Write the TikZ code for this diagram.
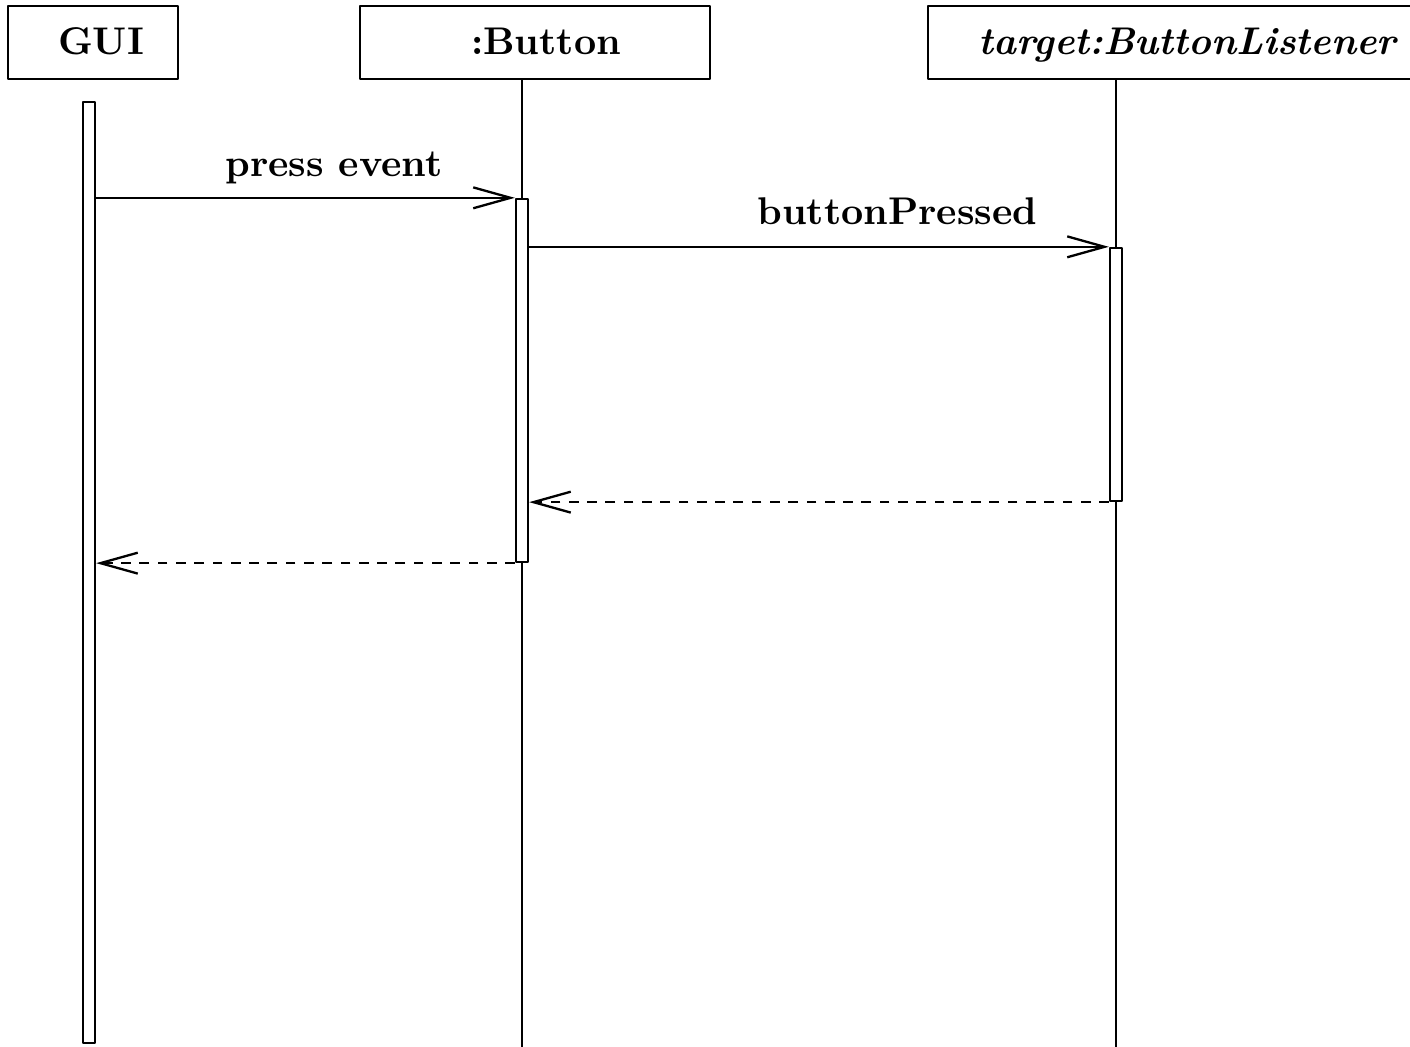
\documentclass[tikz,border=0pt]{standalone}
\usetikzlibrary{arrows.meta}
\begin{document}
\begin{tikzpicture}[x=0.268pt,y=-0.268pt,
  line width=0.62pt,line join=round,
  objbox/.style={draw,rectangle,inner sep=0pt,minimum height={73*0.268pt}},
  objtext/.style={anchor=base,inner sep=0pt,font=\fontsize{10.35pt}{12pt}\bfseries},
  actbar/.style={draw,fill=white,rectangle,inner sep=0pt,minimum width={12*0.268pt}},
  lifeline/.style={draw},
  msg/.style={-{Straight Barb[length=10pt,width=5.6pt]}},
  ret/.style={msg,dash pattern=on 2.6pt off 2.3pt},
  msglabel/.style={anchor=base,inner sep=0pt,font=\fontsize{10.35pt}{12pt}\bfseries}]
\useasboundingbox (0,0) rectangle (1410,1047);

% object heads (the last one runs past the right margin)
\node[objbox,minimum width={170*0.268pt}] (gui) at (93,42.5) {};
\node[objbox,minimum width={350*0.268pt}] (btn) at (535,42.5) {};
\node[objbox,minimum width={490*0.268pt}] (tgt) at (1173,42.5) {};
\node[objtext] (guiT) at (101,55) {GUI};
\node[objtext] (btnT) at (546,55) {:Button};
\node[objtext] (tgtT) at (1187.5,55) {\itshape target:ButtonListener};

% lifelines
\coordinate (btnTop) at (522,79);
\coordinate (btnEnd) at (522,1047);
\coordinate (tgtTop) at (1116,79);
\coordinate (tgtEnd) at (1116,1047);
\draw[lifeline] (btnTop) -- (btnEnd);
\draw[lifeline] (tgtTop) -- (tgtEnd);

% activation bars
\node[actbar,minimum height={941*0.268pt}] (guiAct) at (89,572.5) {};
\node[actbar,minimum height={363*0.268pt}] (btnAct) at (522,380.5) {};
\node[actbar,minimum height={253*0.268pt}] (tgtAct) at (1116,374.5) {};

% messages
\draw[msg] (guiAct.east |- btnAct.north) -- (btnAct.north west);
\node[msglabel] (m1) at (334,177) {press event};
\draw[msg] (btnAct.east |- tgtAct.north) -- (tgtAct.north west);
\node[msglabel] (m2) at (897.5,225) {buttonPressed};
\draw[ret] (tgtAct.south west) -- (btnAct.east |- tgtAct.south);
\draw[ret] (btnAct.south west) -- (guiAct.east |- btnAct.south);
\end{tikzpicture}
\end{document}
